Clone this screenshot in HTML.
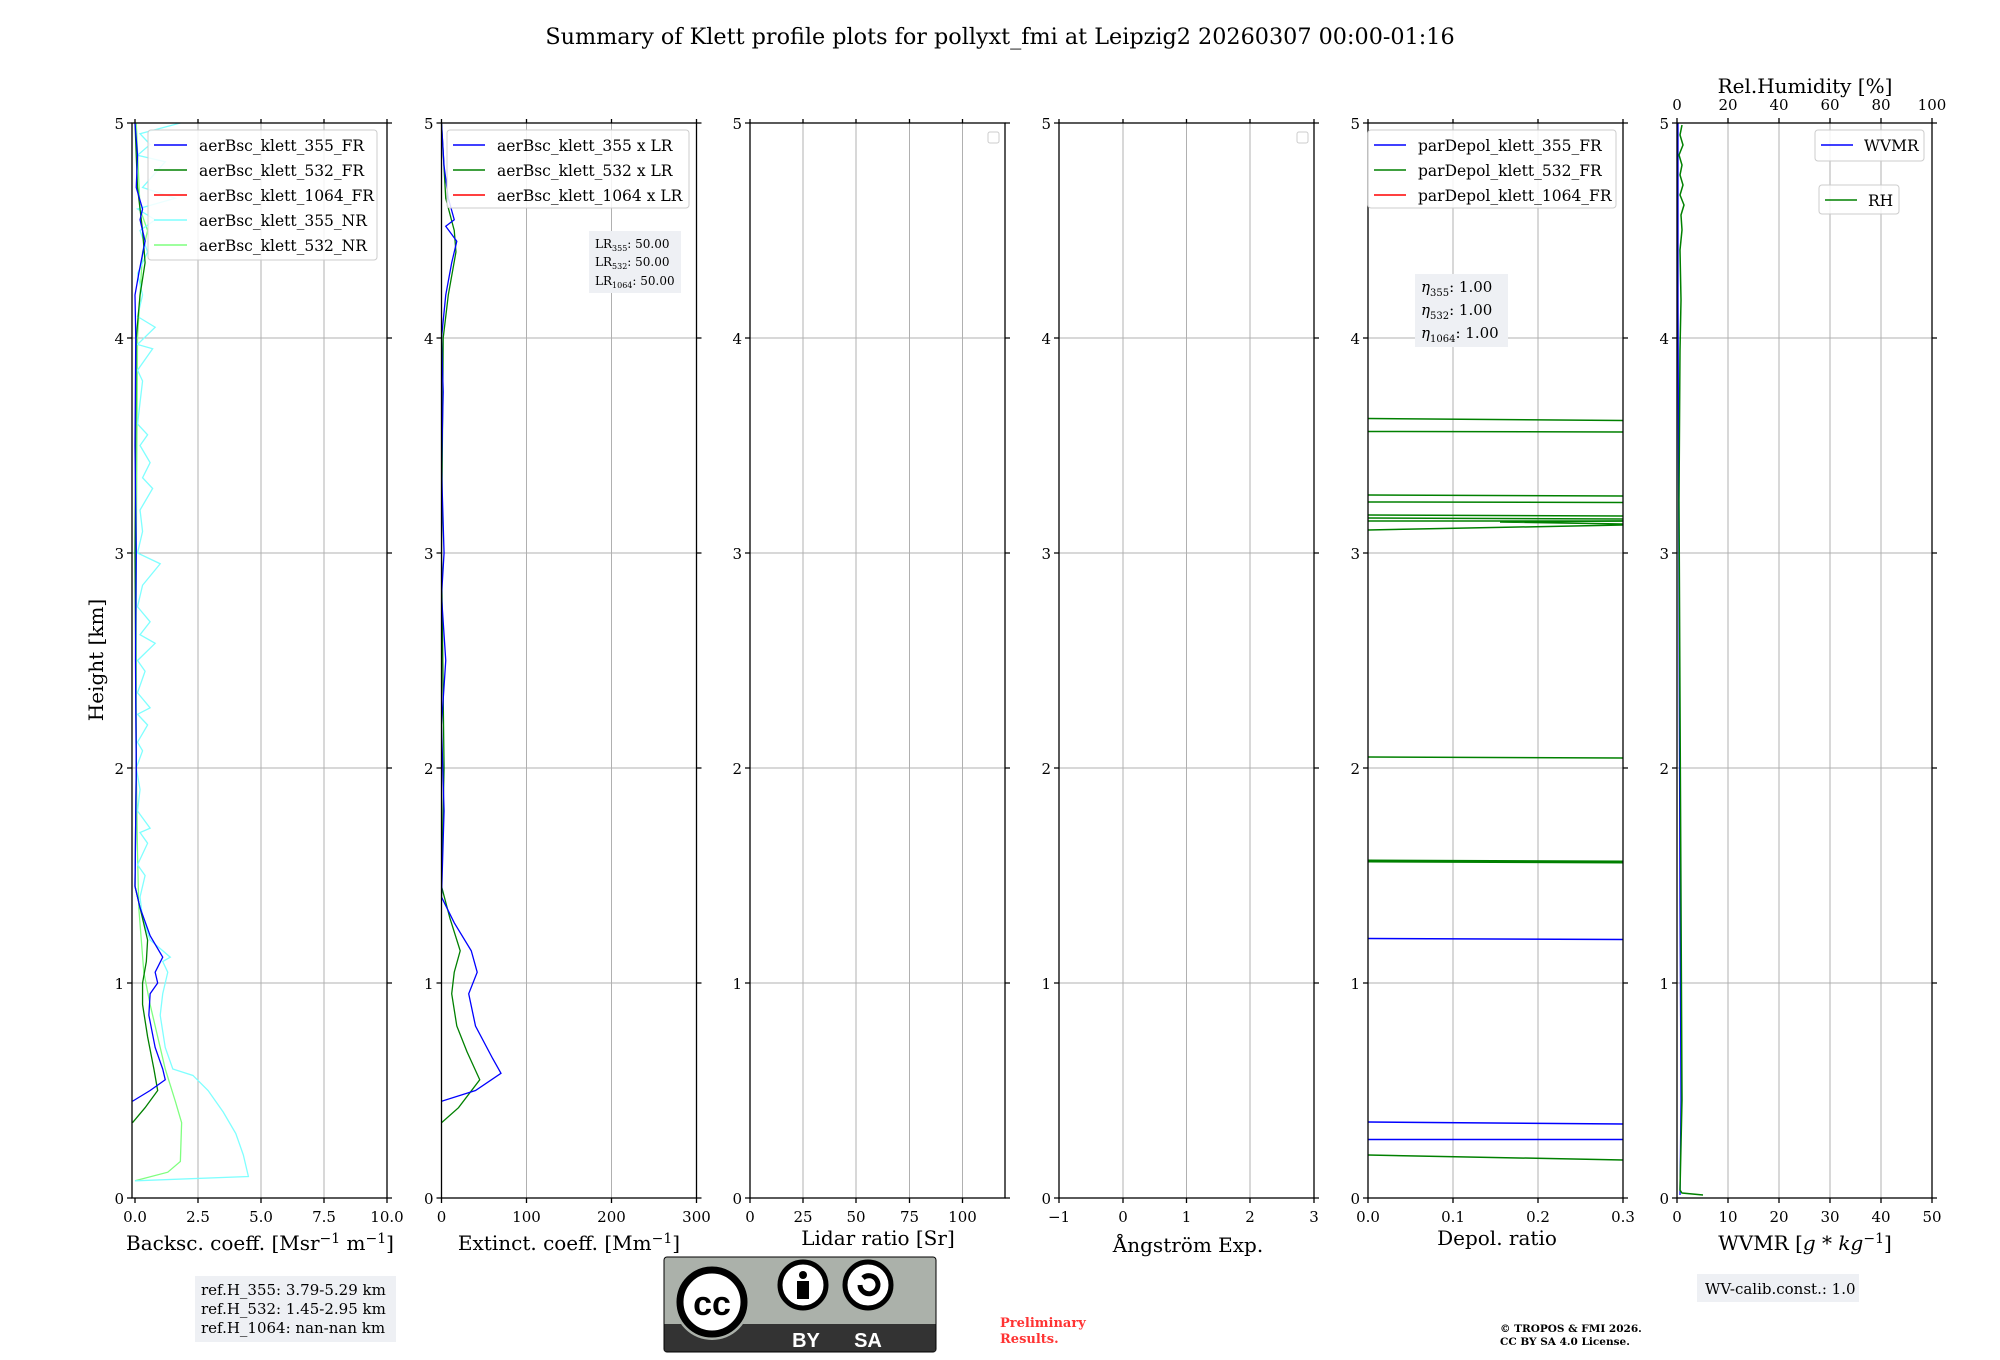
<!DOCTYPE html>
<html><head><meta charset="utf-8"><style>
html,body{margin:0;padding:0;background:#fff}
svg{display:block}
text{font-family:"DejaVu Serif","Liberation Serif",serif;fill:#000}
.t{font-size:15px}
.lg{font-size:15.5px}
.al{font-size:20px}
.grid line{stroke:#b0b0b0;stroke-width:1}
.ns{vector-effect:non-scaling-stroke;fill:none}
</style></head><body>
<svg width="2000" height="1360" viewBox="0 0 2000 1360" xmlns="http://www.w3.org/2000/svg">
<defs>
<clipPath id="c1"><rect x="132" y="123" width="255" height="1075"/></clipPath>
<clipPath id="c2"><rect x="441.5" y="123" width="255" height="1075"/></clipPath>
<clipPath id="c5"><rect x="1368" y="123" width="255" height="1075"/></clipPath>
<clipPath id="c6"><rect x="1677" y="123" width="255" height="1075"/></clipPath>
</defs>
<text x="1000" y="44" text-anchor="middle" style="font-size:22.3px">Summary of Klett profile plots for pollyxt_fmi at Leipzig2 20260307 00:00-01:16</text>

<g class="grid">
<g id="hg">
<line x1="132" x2="387" y1="983" y2="983"/><line x1="132" x2="387" y1="768" y2="768"/><line x1="132" x2="387" y1="553" y2="553"/><line x1="132" x2="387" y1="338" y2="338"/>
</g>
<use href="#hg" x="309.5"/><use href="#hg" x="618"/><use href="#hg" x="927"/><use href="#hg" x="1236"/><use href="#hg" x="1545"/>
<line x1="198" x2="198" y1="123" y2="1198"/><line x1="261" x2="261" y1="123" y2="1198"/><line x1="324" x2="324" y1="123" y2="1198"/>
<line x1="526.5" x2="526.5" y1="123" y2="1198"/><line x1="611.5" x2="611.5" y1="123" y2="1198"/>
<line x1="803" x2="803" y1="123" y2="1198"/><line x1="856" x2="856" y1="123" y2="1198"/><line x1="909.5" x2="909.5" y1="123" y2="1198"/><line x1="962.5" x2="962.5" y1="123" y2="1198"/>
<line x1="1123" x2="1123" y1="123" y2="1198"/><line x1="1186.5" x2="1186.5" y1="123" y2="1198"/><line x1="1250" x2="1250" y1="123" y2="1198"/>
<line x1="1453" x2="1453" y1="123" y2="1198"/><line x1="1538" x2="1538" y1="123" y2="1198"/>
<line x1="1728" x2="1728" y1="123" y2="1198"/><line x1="1779" x2="1779" y1="123" y2="1198"/><line x1="1830" x2="1830" y1="123" y2="1198"/><line x1="1881" x2="1881" y1="123" y2="1198"/>
</g>

<g clip-path="url(#c1)">
<g transform="translate(135,1198) scale(25.2,-215)">
<polyline class="ns" stroke="#7fff7f" stroke-width="1.3" points="0,0.08 1.3,0.12 1.8,0.17 1.85,0.35 1.6,0.45 1.2,0.6 0.9,0.75 0.6,0.9 0.35,1.05 0.25,1.2 0.15,1.35 0.1,1.6 0.05,2 0.05,3 0.1,4 0.3,4.4 0.5,4.5 0.2,4.6 0.05,5"/>
<polyline class="ns" stroke="#7fffff" stroke-width="1.3" points="0,0.08 4.5,0.1 4.3,0.2 4.0,0.3 3.5,0.4 2.9,0.5 2.3,0.57 1.5,0.6 1.2,0.7 1.0,0.85 1.1,0.95 1.3,1.05 1.1,1.1 1.4,1.12 0.6,1.2 0.3,1.3 0.2,1.4 0.4,1.5 0.1,1.55 0.5,1.65 0.2,1.7 0.6,1.72 0.1,1.8 0.2,1.9 0.05,2.0 0.3,2.08 0.1,2.12 0.5,2.2 0.1,2.25 0.6,2.28 0.1,2.35 0.4,2.45 0.1,2.5 0.8,2.58 0.2,2.62 0.6,2.68 0.1,2.75 0.3,2.85 1.0,2.95 0.1,3.0 0.3,3.1 0.2,3.2 0.7,3.3 0.3,3.35 0.6,3.42 0.2,3.5 0.5,3.55 0.1,3.6 0.2,3.7 0.3,3.8 0.1,3.85 0.7,3.95 0.1,3.97 0.8,4.05 0.1,4.1 0.3,4.2 0.1,4.3 0.5,4.4 0.2,4.5 0.8,4.55 0.1,4.6 1.6,4.65 0.3,4.7 1.2,4.82 0.1,4.85 0.6,4.9 0.2,4.95 1.8,5.0"/>
<polyline class="ns" stroke="#008000" stroke-width="1.3" points="-0.1,0.35 0.4,0.42 0.9,0.5 0.75,0.6 0.5,0.75 0.3,0.9 0.3,1.0 0.45,1.1 0.5,1.2 0.2,1.35 0,1.45 0.05,2 0,3 0.05,4 0.2,4.2 0.4,4.35 0.3,4.5 0.1,4.7 0,5"/>
<polyline class="ns" stroke="#0000ff" stroke-width="1.3" points="-0.1,0.45 0.6,0.5 1.2,0.55 1.1,0.6 0.8,0.7 0.55,0.85 0.6,0.95 0.9,1.0 0.8,1.05 1.1,1.12 0.6,1.22 0.2,1.35 0,1.45 0.05,2 0.02,2.5 0.05,3 0,3.5 0.03,4 0,4.2 0.15,4.3 0.4,4.45 0.2,4.55 0.3,4.6 0.05,4.7 0.1,4.85 0,5"/>
</g></g>

<g clip-path="url(#c2)">
<g transform="translate(441.5,1198) scale(0.85,-215)">
<polyline class="ns" stroke="#008000" stroke-width="1.3" points="0,0.35 20,0.42 45,0.55 30,0.68 18,0.8 12,0.95 15,1.05 22,1.15 10,1.3 0,1.45 3,2 0,3 2,4 8,4.2 17,4.4 15,4.5 5,4.65 0,5"/>
<polyline class="ns" stroke="#0000ff" stroke-width="1.3" points="0,0.45 40,0.5 70,0.58 60,0.65 40,0.8 32,0.95 42,1.05 35,1.15 15,1.28 0,1.4 3,1.8 0,2.2 5,2.5 0,2.8 3,3 0,3.4 2,3.75 0,4 5,4.2 12,4.35 18,4.45 5,4.52 15,4.55 8,4.65 3,4.8 0,5"/>
</g></g>

<g clip-path="url(#c5)" stroke-width="1.5">
<line x1="1368" x2="1623" y1="418.5" y2="420.5" stroke="#008000"/>
<line x1="1368" x2="1623" y1="431.5" y2="432" stroke="#008000"/>
<line x1="1368" x2="1623" y1="495" y2="496" stroke="#008000"/>
<line x1="1368" x2="1623" y1="502" y2="502.5" stroke="#008000"/>
<line x1="1368" x2="1623" y1="515" y2="516" stroke="#008000"/>
<line x1="1368" x2="1623" y1="518" y2="519" stroke="#008000"/>
<line x1="1368" x2="1623" y1="521" y2="521" stroke="#008000"/>
<path d="M1500 522 L1623 521 M1500 522 L1623 524" stroke="#008000" fill="none"/>
<line x1="1368" x2="1623" y1="530" y2="525" stroke="#008000"/>
<line x1="1368" x2="1623" y1="757" y2="758" stroke="#008000"/>
<line x1="1368" x2="1623" y1="861" y2="862" stroke="#008000" stroke-width="3"/>
<line x1="1368" x2="1623" y1="938.5" y2="939.5" stroke="#0000ff"/>
<line x1="1368" x2="1623" y1="1122" y2="1124" stroke="#0000ff"/>
<line x1="1368" x2="1623" y1="1139.5" y2="1139.5" stroke="#0000ff"/>
<line x1="1368" x2="1623" y1="1155" y2="1160" stroke="#008000"/>
</g>

<g clip-path="url(#c6)">
<polyline class="ns" stroke="#0000ff" stroke-width="1.3" points="1680,1195 1681,1100 1680,900 1679,600 1678,300 1678,123"/>
<polyline class="ns" stroke="#008000" stroke-width="1.5" points="1703,1195 1682,1193 1680,1190 1682,1100 1681,900 1680,700 1679,500 1680,350 1681,300 1680,250 1682,230 1681,215 1684,205 1680,195 1683,185 1680,175 1682,165 1679,155 1683,145 1680,135 1682,125"/>
</g>

<g stroke="#000" stroke-width="1.3" fill="none">
<g id="ax">
<rect x="132" y="123" width="255" height="1075"/>
<path d="M127 1198h5M127 983h5M127 768h5M127 553h5M127 338h5M127 123h5 M387 1198h5M387 983h5M387 768h5M387 553h5M387 338h5M387 123h5"/>
</g>
<use href="#ax" x="309.5"/><use href="#ax" x="618"/><use href="#ax" x="927"/><use href="#ax" x="1236"/><use href="#ax" x="1545"/>
<path d="M135 1198v5M198 1198v5M261 1198v5M324 1198v5M387 1198v5 M135 123v-4M198 123v-4M261 123v-4M324 123v-4M387 123v-4"/>
<path d="M441.5 1198v5M526.5 1198v5M611.5 1198v5M696.5 1198v5 M441.5 123v-4M526.5 123v-4M611.5 123v-4M696.5 123v-4"/>
<path d="M750 1198v5M803 1198v5M856 1198v5M909.5 1198v5M962.5 1198v5 M750 123v-4M803 123v-4M856 123v-4M909.5 123v-4M962.5 123v-4"/>
<path d="M1059 1198v5M1123 1198v5M1186.5 1198v5M1250 1198v5M1314 1198v5 M1059 123v-4M1123 123v-4M1186.5 123v-4M1250 123v-4M1314 123v-4"/>
<path d="M1368 1198v5M1453 1198v5M1538 1198v5M1623 1198v5 M1368 123v-4M1453 123v-4M1538 123v-4M1623 123v-4"/>
<path d="M1677 1198v5M1728 1198v5M1779 1198v5M1830 1198v5M1881 1198v5M1932 1198v5 M1677 123v-5M1728 123v-5M1779 123v-5M1830 123v-5M1881 123v-5M1932 123v-5"/>
</g>

<g class="t" text-anchor="end">
<g id="yl"><text x="124" y="1204">0</text><text x="124" y="989">1</text><text x="124" y="774">2</text><text x="124" y="559">3</text><text x="124" y="344">4</text><text x="124" y="129">5</text></g>
<use href="#yl" x="309.5"/><use href="#yl" x="618"/><use href="#yl" x="927"/><use href="#yl" x="1236"/><use href="#yl" x="1545"/>
</g>
<g class="t" text-anchor="middle">
<text x="135" y="1222">0.0</text><text x="198" y="1222">2.5</text><text x="261" y="1222">5.0</text><text x="324" y="1222">7.5</text><text x="387" y="1222">10.0</text>
<text x="441.5" y="1222">0</text><text x="526.5" y="1222">100</text><text x="611.5" y="1222">200</text><text x="696.5" y="1222">300</text>
<text x="750" y="1222">0</text><text x="803" y="1222">25</text><text x="856" y="1222">50</text><text x="909.5" y="1222">75</text><text x="962.5" y="1222">100</text>
<text x="1059" y="1222">−1</text><text x="1123" y="1222">0</text><text x="1186.5" y="1222">1</text><text x="1250" y="1222">2</text><text x="1314" y="1222">3</text>
<text x="1368" y="1222">0.0</text><text x="1453" y="1222">0.1</text><text x="1538" y="1222">0.2</text><text x="1623" y="1222">0.3</text>
<text x="1677" y="1222">0</text><text x="1728" y="1222">10</text><text x="1779" y="1222">20</text><text x="1830" y="1222">30</text><text x="1881" y="1222">40</text><text x="1932" y="1222">50</text>
<text x="1677" y="110">0</text><text x="1728" y="110">20</text><text x="1779" y="110">40</text><text x="1830" y="110">60</text><text x="1881" y="110">80</text><text x="1932" y="110">100</text>
</g>

<g class="al" text-anchor="middle">
<text x="260" y="1250">Backsc. coeff. [Msr<tspan dy="-7" font-size="14">−1</tspan><tspan dy="7"> m</tspan><tspan dy="-7" font-size="14">−1</tspan><tspan dy="7">]</tspan></text>
<text x="569" y="1250">Extinct. coeff. [Mm<tspan dy="-7" font-size="14">−1</tspan><tspan dy="7">]</tspan></text>
<text x="878" y="1245">Lidar ratio [Sr]</text>
<text x="1188" y="1252">Ångström Exp.</text>
<text x="1497" y="1245">Depol. ratio</text>
<text x="1805" y="1250">WVMR [<tspan font-style="italic">g</tspan> * <tspan font-style="italic">kg</tspan><tspan dy="-7" font-size="14">−1</tspan><tspan dy="7">]</tspan></text>
<text x="1805" y="93">Rel.Humidity [%]</text>
<text transform="translate(103,660) rotate(-90)">Height [km]</text>
</g>

<g stroke="#ccc" fill="#fff" fill-opacity="0.85">
<rect x="148" y="130" width="229" height="130" rx="3"/>
<rect x="447" y="130" width="242" height="78" rx="3"/>
<rect x="1368" y="130" width="248" height="78" rx="3"/>
<rect x="1815" y="130" width="109" height="31" rx="3"/>
<rect x="1819" y="185" width="80" height="29" rx="3"/>
<rect x="988" y="132" width="11" height="11" rx="2"/>
<rect x="1297" y="132" width="11" height="11" rx="2"/>
</g>
<g stroke-width="1.5">
<line x1="154" x2="187" y1="145" y2="145" stroke="#0000ff"/>
<line x1="154" x2="187" y1="170" y2="170" stroke="#008000"/>
<line x1="154" x2="187" y1="195" y2="195" stroke="#ff0000"/>
<line x1="154" x2="187" y1="220" y2="220" stroke="#7fffff"/>
<line x1="154" x2="187" y1="245" y2="245" stroke="#7fff7f"/>
<line x1="453" x2="485" y1="145" y2="145" stroke="#0000ff"/>
<line x1="453" x2="485" y1="170" y2="170" stroke="#008000"/>
<line x1="453" x2="485" y1="195" y2="195" stroke="#ff0000"/>
<line x1="1374" x2="1406" y1="145" y2="145" stroke="#0000ff"/>
<line x1="1374" x2="1406" y1="170" y2="170" stroke="#008000"/>
<line x1="1374" x2="1406" y1="195" y2="195" stroke="#ff0000"/>
<line x1="1821" x2="1853" y1="145" y2="145" stroke="#0000ff"/>
<line x1="1825" x2="1857" y1="200" y2="200" stroke="#008000"/>
</g>
<g class="lg">
<text x="199" y="151">aerBsc_klett_355_FR</text>
<text x="199" y="176">aerBsc_klett_532_FR</text>
<text x="199" y="201">aerBsc_klett_1064_FR</text>
<text x="199" y="226">aerBsc_klett_355_NR</text>
<text x="199" y="251">aerBsc_klett_532_NR</text>
<text x="497" y="151">aerBsc_klett_355 x LR</text>
<text x="497" y="176">aerBsc_klett_532 x LR</text>
<text x="497" y="201">aerBsc_klett_1064 x LR</text>
<text x="1418" y="151">parDepol_klett_355_FR</text>
<text x="1418" y="176">parDepol_klett_532_FR</text>
<text x="1418" y="201">parDepol_klett_1064_FR</text>
<text x="1864" y="151">WVMR</text>
<text x="1868" y="206">RH</text>
</g>

<rect x="589" y="231" width="92" height="62" fill="#eef0f4"/>
<g style="font-size:12px">
<text x="595" y="248">LR<tspan font-size="8" dy="3">355</tspan><tspan dy="-3">: 50.00</tspan></text>
<text x="595" y="266">LR<tspan font-size="8" dy="3">532</tspan><tspan dy="-3">: 50.00</tspan></text>
<text x="595" y="285">LR<tspan font-size="8" dy="3">1064</tspan><tspan dy="-3">: 50.00</tspan></text>
</g>
<rect x="1415" y="274" width="93" height="73" fill="#eef0f4"/>
<g style="font-size:15px">
<text x="1421" y="292"><tspan font-style="italic">η</tspan><tspan font-size="10" dy="4">355</tspan><tspan dy="-4">: 1.00</tspan></text>
<text x="1421" y="315"><tspan font-style="italic">η</tspan><tspan font-size="10" dy="4">532</tspan><tspan dy="-4">: 1.00</tspan></text>
<text x="1421" y="338"><tspan font-style="italic">η</tspan><tspan font-size="10" dy="4">1064</tspan><tspan dy="-4">: 1.00</tspan></text>
</g>

<rect x="195" y="1276" width="201" height="66" fill="#eef0f4"/>
<g style="font-size:15px">
<text x="201" y="1295">ref.H_355: 3.79-5.29 km</text>
<text x="201" y="1314">ref.H_532: 1.45-2.95 km</text>
<text x="201" y="1333">ref.H_1064: nan-nan km</text>
</g>
<rect x="1697" y="1274" width="162" height="28" fill="#eef0f4"/>
<text x="1705" y="1294" style="font-size:15px">WV-calib.const.: 1.0</text>

<text x="1000" y="1327" style="font-size:13px;font-weight:bold;fill:#ff3333">Preliminary</text>
<text x="1000" y="1343" style="font-size:13px;font-weight:bold;fill:#ff3333">Results.</text>
<text x="1500" y="1332" style="font-size:10.5px;font-weight:bold">© TROPOS &amp; FMI 2026.</text>
<text x="1500" y="1345" style="font-size:10.5px;font-weight:bold">CC BY SA 4.0 License.</text>

<g>
<rect x="664" y="1257" width="272" height="95" rx="3" fill="#abb1aa" stroke="#000" stroke-width="1"/>
<rect x="664.5" y="1324" width="271" height="27.5" fill="#333"/>
<circle cx="712" cy="1302" r="38" fill="#abb1aa"/>
<circle cx="712" cy="1302" r="32" fill="#fff" stroke="#000" stroke-width="7"/>
<text x="712" y="1315" text-anchor="middle" style="font-family:'Liberation Sans',sans-serif;font-weight:bold;font-size:34px">cc</text>
<circle cx="803" cy="1285" r="23" fill="#fff" stroke="#000" stroke-width="5"/>
<circle cx="803" cy="1275" r="4" fill="#000"/>
<rect x="797" y="1281" width="12" height="18" fill="#000"/>
<circle cx="868" cy="1285" r="23" fill="#fff" stroke="#000" stroke-width="5"/>
<path d="M860 1285 a9 9 0 1 0 3 -7" stroke="#000" stroke-width="5" fill="none"/>
<text x="806" y="1347" text-anchor="middle" style="font-family:'Liberation Sans',sans-serif;font-weight:bold;font-size:20px;fill:#fff">BY</text>
<text x="868" y="1347" text-anchor="middle" style="font-family:'Liberation Sans',sans-serif;font-weight:bold;font-size:20px;fill:#fff">SA</text>
</g>
</svg>
</body></html>
